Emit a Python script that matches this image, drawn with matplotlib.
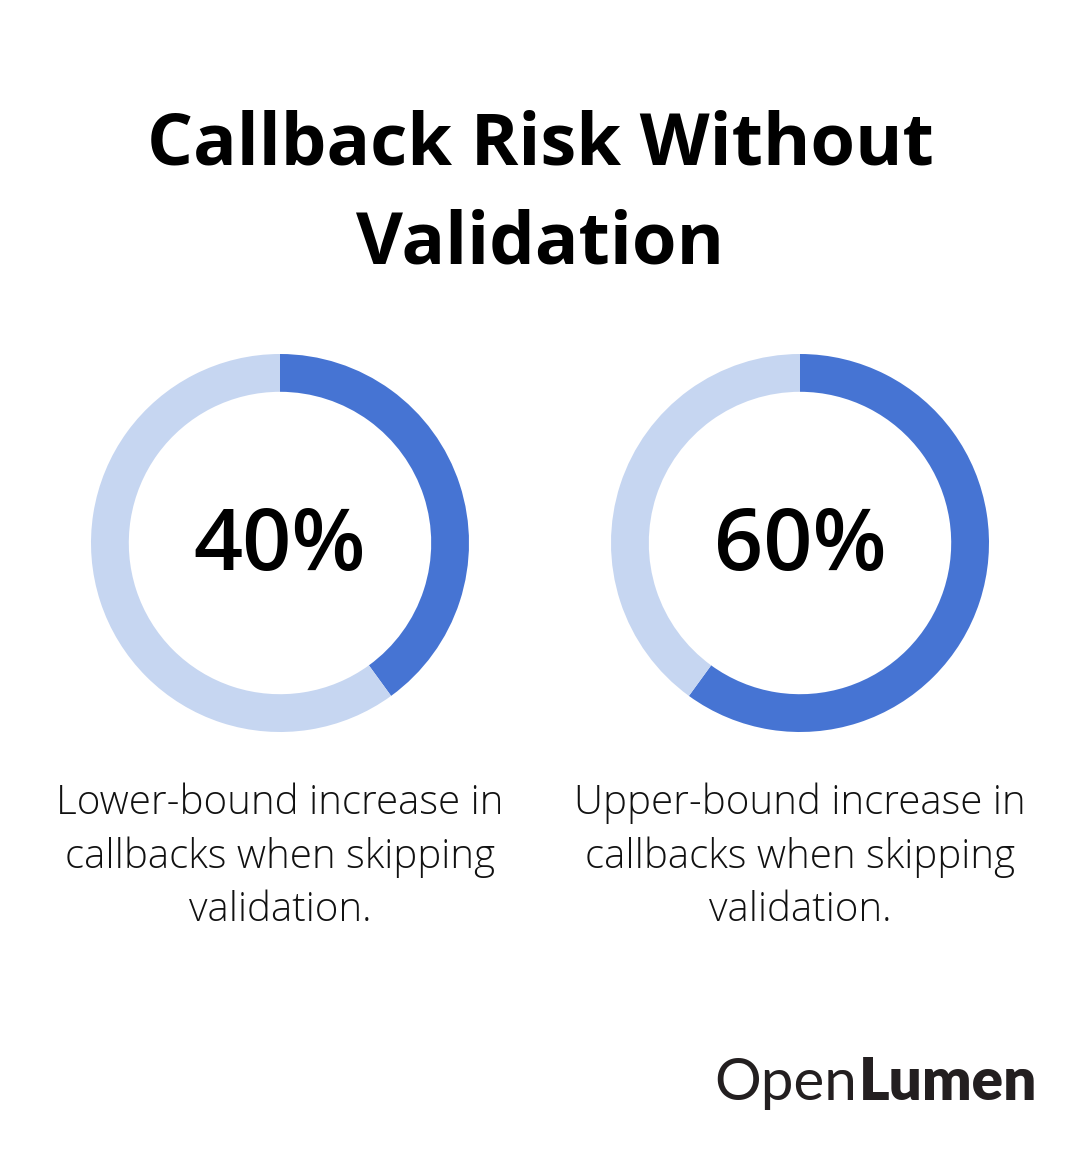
import matplotlib
matplotlib.use("Agg")
import matplotlib.pyplot as plt

# --- Data ---
TITLE = ["Callback Risk Without", "Validation"]
VALUES = [40, 60]
LABELS = ["40%", "60%"]
CAPTIONS = [
    "Lower-bound increase in\ncallbacks when skipping\nvalidation.",
    "Upper-bound increase in\ncallbacks when skipping\nvalidation.",
]

# --- Style ---
DARK = "#4674D3"
LIGHT = "#C6D6F1"
W, H = 1080, 1164
plt.rcParams["font.family"] = ["Open Sans", "DejaVu Sans"]

fig = plt.figure(figsize=(W / 100, H / 100), dpi=100)
fig.patch.set_facecolor("white")


def fx(px):
    return px / W


def fy(py):
    return 1 - py / H


# title
fig.text(0.5, fy(165), TITLE[0], ha="center", va="baseline", fontsize=52, fontweight="bold")
fig.text(0.5, fy(264), TITLE[1], ha="center", va="baseline", fontsize=52, fontweight="bold")

# donuts
centers = [280, 800]
R = 189
for cx, val, lab, cap in zip(centers, VALUES, LABELS, CAPTIONS):
    ax = fig.add_axes([fx(cx - R), fy(543 + R), 2 * R / W, 2 * R / H])
    ax.pie([val, 100 - val], colors=[DARK, LIGHT], startangle=90, counterclock=False,
           radius=1, wedgeprops=dict(width=0.2, edgecolor="none"))
    ax.set_aspect("equal")
    ax.set_xlim(-1, 1)
    ax.set_ylim(-1, 1)
    ax.axis("off")
    fig.text(fx(cx), fy(570), lab, ha="center", va="baseline", fontsize=62, fontweight="semibold")
    fig.text(fx(cx), fy(921), cap, ha="center", va="baseline", fontsize=29,
             fontweight="light", linespacing=1.39, color="#111111")

# logo
fig.text(fx(857), fy(1100), "Open", ha="right", va="baseline", fontsize=42,
         fontweight="normal", color="#231F20", family="Lato")
fig.text(fx(859), fy(1100), "Lumen", ha="left", va="baseline", fontsize=42,
         fontweight="heavy", color="#231F20", family="Lato")

fig.savefig("out.png", dpi=100, facecolor="white")
